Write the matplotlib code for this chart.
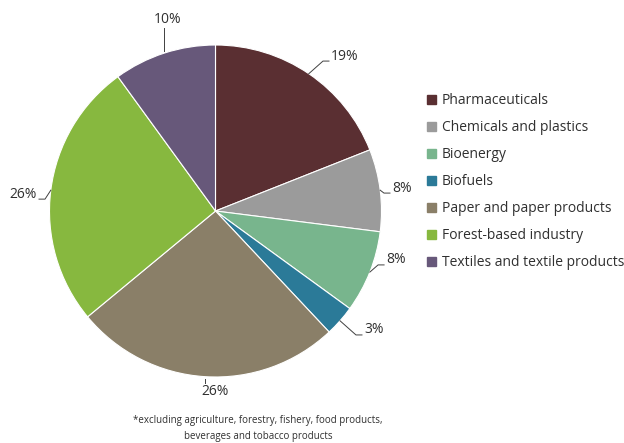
import numpy as np
import matplotlib.pyplot as plt

sectors = ["Pharmaceuticals", "Chemicals and plastics", "Bioenergy", "Biofuels",
           "Paper and paper products", "Forest-based industry",
           "Textiles and textile products"]
shares = [19, 8, 8, 3, 26, 26, 10]
colors = ["#5A2F32", "#9B9B9B", "#78B58D", "#2B7A98", "#8A7F68", "#87B83F", "#67587A"]
# label distance (in radii) and angle nudge (deg) for each percentage label
label_r = [1.164, 1.072, 1.069, 1.146, 1.09, 1.08, 1.19]
label_da = [-2.5, 0.2, 5.6, 2.7, 3.4, 1.8, -4.1]

plt.rcParams['font.family'] = ['Open Sans', 'DejaVu Sans']

W, H = 624, 443
fig = plt.figure(figsize=(W / 100, H / 100), dpi=100)
ax = fig.add_axes([0, 0, 1, 1])

cx, cy, R = 215.5, H - 211, 166
wedges, _ = ax.pie(shares, colors=colors, startangle=90, counterclock=False,
                   center=(cx, cy), radius=R, frame=True,
                   wedgeprops=dict(linewidth=0.8, edgecolor='white'))
ax.set_xlim(0, W)
ax.set_ylim(0, H)
ax.set_aspect('equal')
ax.axis('off')

total = sum(shares)
for w, v, lr, da in zip(wedges, shares, label_r, label_da):
    mid = np.deg2rad((w.theta1 + w.theta2) / 2)
    tmid = mid + np.deg2rad(da)
    ex, ey = cx + R * np.cos(mid), cy + R * np.sin(mid)
    tx, ty = cx + lr * R * np.cos(tmid), cy + lr * R * np.sin(tmid)
    c = np.cos(tmid)
    if c > 0.3:
        ha, side = 'left', 1
    elif c < -0.3:
        ha, side = 'right', -1
    else:
        ha, side = 'center', 0
    ax.text(tx, ty, f"{round(100 * v / total)}%", ha=ha, va='center',
            fontsize=10, color='#303030')
    # elbow leader line: short horizontal tick under the label, then to the wedge
    if side:
        lx = [ex, tx - side * 8, tx - side * 2]
        ly = [ey, ty - 5, ty - 5]
    else:
        lx = [ex, ex]
        ly = [ey + np.sign(ey - cy) * 2, ty - np.sign(ty - cy) * 9]
    ax.plot(lx, ly, color='#404040', lw=0.7)

handles = [plt.Rectangle((0, 0), 1, 1, color=c) for c in colors]
fig.legend(handles, sectors, loc='upper left', bbox_to_anchor=(414 / W, 1 - 81 / H),
           frameon=False, fontsize=10, handlelength=0.65, handleheight=0.65,
           handletextpad=0.45, labelspacing=0.86, labelcolor='#303030')

fig.text(258 / W, 1 - 421 / H, "*excluding agriculture, forestry, fishery, food products,",
         ha='center', va='center', fontsize=7, color='#303030')
fig.text(258 / W, 1 - 437 / H, "beverages and tobacco products",
         ha='center', va='center', fontsize=7, color='#303030')

fig.savefig("out.png", dpi=100)
